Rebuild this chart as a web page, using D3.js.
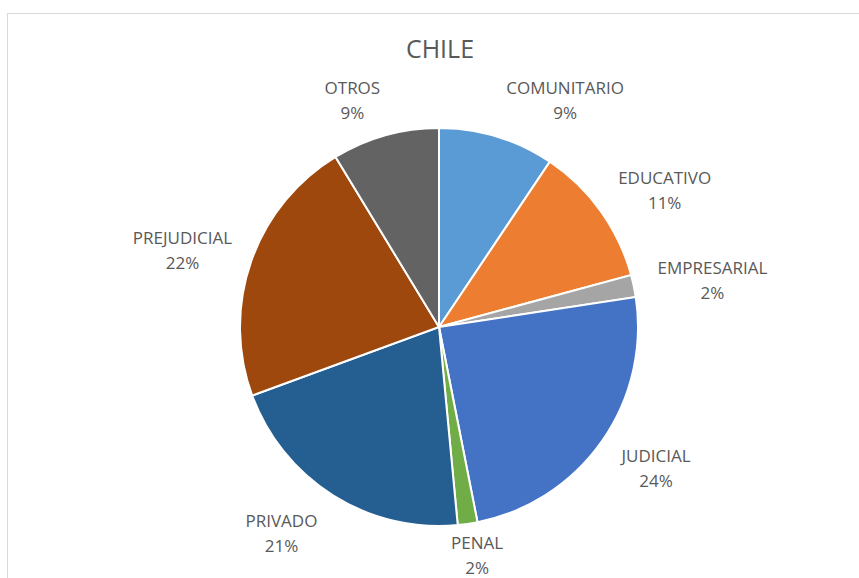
<!DOCTYPE html>
<html>
<head>
<meta charset="utf-8">
<script src="https://cdn.jsdelivr.net/npm/d3@7"></script>
<style>
  body { margin: 0; background: #fff; }
  text { font-family: "Open Sans", sans-serif; fill: #595959; }
</style>
</head>
<body>
<div id="container"></div>
<script>
// data (share of total, %)
var categories = ["COMUNITARIO", "EDUCATIVO", "EMPRESARIAL", "JUDICIAL", "PENAL", "PRIVADO", "PREJUDICIAL", "OTROS"];
var values = [9.4, 11.4, 1.8, 24.3, 1.6, 20.9, 21.9, 8.7];
var colors = ["#5B9BD5", "#ED7D31", "#A5A5A5", "#4472C4", "#70AD47", "#255E91", "#9E480E", "#636363"];

var width = 859,
  height = 578,
  radius = 199,
  cx = 439,
  cy = 327;

var svg = d3
  .select("#container")
  .append("svg")
  .attr("width", width)
  .attr("height", height);

// chart area border
svg
  .append("rect")
  .attr("x", 7.5)
  .attr("y", 13.5)
  .attr("width", 900)
  .attr("height", 700)
  .attr("fill", "none")
  .attr("stroke", "#d9d9d9");

svg
  .append("text")
  .attr("x", 440)
  .attr("y", 58)
  .attr("text-anchor", "middle")
  .style("font-size", "25px")
  .text("CHILE");

var total = d3.sum(values);
var slices = d3.pie().sort(null).value(function (d) { return d; })(values);

var arc = d3.arc().innerRadius(0).outerRadius(radius);
// labels sit on an outer ring, then get nudged like Excel's best fit
var labelArc = d3.arc().innerRadius(258).outerRadius(258);
var nudge = [[51, 20], [16, 13], [21, 6], [6, -7], [1, -27], [-20, -12], [-13, 8], [-17, 21]];

var g = svg.append("g").attr("transform", "translate(" + cx + "," + cy + ")");

g.selectAll("path")
  .data(slices)
  .enter()
  .append("path")
  .attr("d", arc)
  .attr("fill", function (d, i) { return colors[i]; })
  .attr("stroke", "#fff")
  .attr("stroke-width", 2);

var labels = g
  .selectAll(".label")
  .data(slices)
  .enter()
  .append("text")
  .attr("class", "label")
  .attr("text-anchor", "middle")
  .style("font-size", "17px")
  .attr("transform", function (d, i) {
    var c = labelArc.centroid(d);
    return "translate(" + (c[0] + nudge[i][0]) + "," + (c[1] + nudge[i][1]) + ")";
  });

labels
  .append("tspan")
  .attr("x", 0)
  .attr("y", -6)
  .text(function (d, i) { return categories[i]; });

labels
  .append("tspan")
  .attr("x", 0)
  .attr("y", 19)
  .text(function (d) { return Math.round((d.value / total) * 100) + "%"; });
</script>
</body>
</html>
